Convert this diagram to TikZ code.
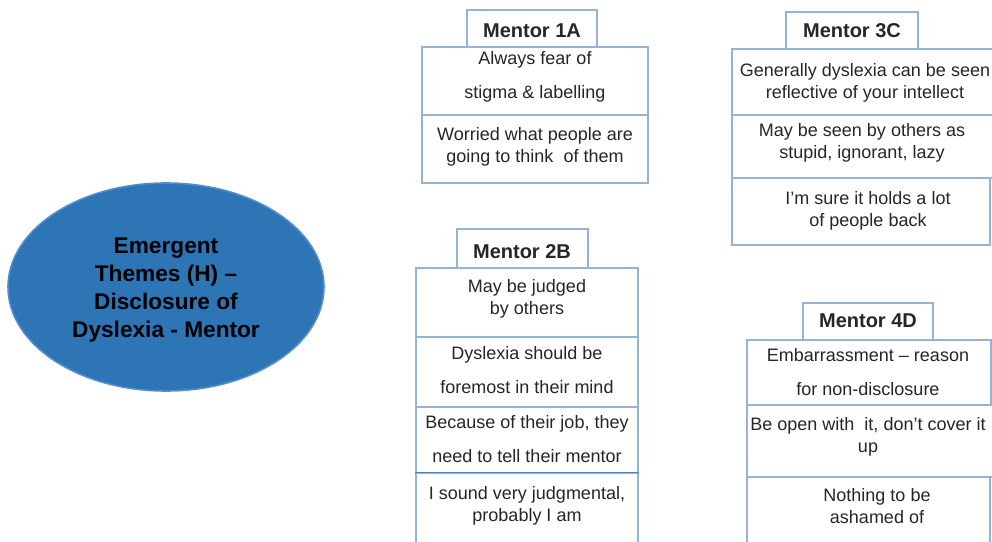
\documentclass[tikz,border=0pt]{standalone}
\usepackage{fontspec}
\setmainfont{Liberation Sans}
\usetikzlibrary{shapes.geometric,fit}
\definecolor{boxblue}{RGB}{149,179,215}
\definecolor{divblue}{RGB}{79,129,189}
\definecolor{ellfill}{RGB}{46,117,182}
\definecolor{elldraw}{RGB}{84,141,205}
\definecolor{txtc}{RGB}{38,38,38}
\begin{document}
\begin{tikzpicture}[x=0.75pt,y=-0.75pt,
  cell/.style={draw=boxblue,line width=1.1pt,inner sep=0pt,fill=white},
  headtxt/.style={inner sep=0pt,font=\bfseries\fontsize{15}{18}\selectfont,text=txtc},
  txt/.style={align=center,inner sep=0pt,text=txtc,font=\fontsize{13.5}{16.5}\selectfont},
  theme/.style={ellipse,fill=ellfill,draw=elldraw,line width=1.2pt,minimum width=237pt,minimum height=156pt,
    align=center,inner sep=0pt,font=\bfseries\fontsize{17}{21}\selectfont,text=black}]
\useasboundingbox (0,0) rectangle (992,542);
\clip (0,0) rectangle (992,542);

% central theme
\node[theme] (theme) at (166,287) {};
\node[align=center,inner sep=0pt,font=\bfseries\fontsize{17}{21}\selectfont,text=black] (themet) at (166,290)
  {Emergent\\Themes (H) –\\Disclosure of\\Dyslexia - Mentor};

% Mentor 1A
\node[cell,fit={(422,47) (648,115)}] (a1) {};
\node[cell,fit={(422,115) (648,183)}] (a2) {};
\node[cell,fit={(467,10) (597,47)}] (ah) {};
\node[headtxt] (aht) at (532,31) {Mentor 1A};
\node[txt] (a1t) at (535,77) {Always fear of\\[9pt]stigma \& labelling};
\node[txt] (a2t) at (535,147) {Worried what people are\\going to think\ \ of them};

% Mentor 3C
\node[cell,fit={(732,49) (1000,115)}] (c1) {};
\node[cell,fit={(732,115) (1000,178)}] (c2) {};
\node[cell,fit={(732,178) (990,245)}] (c3) {};
\node[cell,fit={(786,12) (918,49)}] (ch) {};
\node[headtxt] (cht) at (852,31) {Mentor 3C};
\node[txt] (c1t) at (865,82.5) {Generally dyslexia can be seen\\reflective of your intellect};
\node[txt] (c2t) at (862,142.5) {May be seen by others as\\stupid, ignorant, lazy};
\node[txt] (c3t) at (868,211) {I’m sure it holds a lot\\of people back};

% Mentor 2B
\node[cell,fit={(416,268) (638,337)}] (b1) {};
\node[cell,fit={(416,337) (638,407)}] (b2) {};
\node[cell,fit={(416,407) (638,473)}] (b3) {};
\node[cell,fit={(416,473) (638,560)}] (b4) {};
\draw[divblue,line width=1.1pt] (b4.north west) -- (b4.north east);
\node[cell,fit={(457,229) (588,268)}] (bh) {};
\node[headtxt] (bht) at (522,252) {Mentor 2B};
\node[txt] (b1t) at (527,299) {May be judged\\by others};
\node[txt] (b2t) at (527,370) {Dyslexia should be\\[9pt]foremost in their mind};
\node[txt] (b3t) at (527,439) {Because of their job, they\\[9pt]need to tell their mentor};
\node[txt] (b4t) at (527,505.5) {I sound very judgmental,\\probably I am};

% Mentor 4D
\node[cell,fit={(747,405) (1000,477)}] (d2) {};
\node[cell,fit={(747,340) (991,405)}] (d1) {};
\node[cell,fit={(747,477) (990,560)}] (d3) {};
\node[cell,fit={(803,303) (933,340)}] (dh) {};
\node[headtxt] (dht) at (868,321) {Mentor 4D};
\node[txt] (d1t) at (868,372) {Embarrassment – reason\\[9pt]for non-disclosure};
\node[txt] (d2t) at (868,437) {Be open with\ \ it, don’t cover it\\up};
\node[txt] (d3t) at (877,506) {Nothing to be\\ashamed of};
\end{tikzpicture}
\end{document}
